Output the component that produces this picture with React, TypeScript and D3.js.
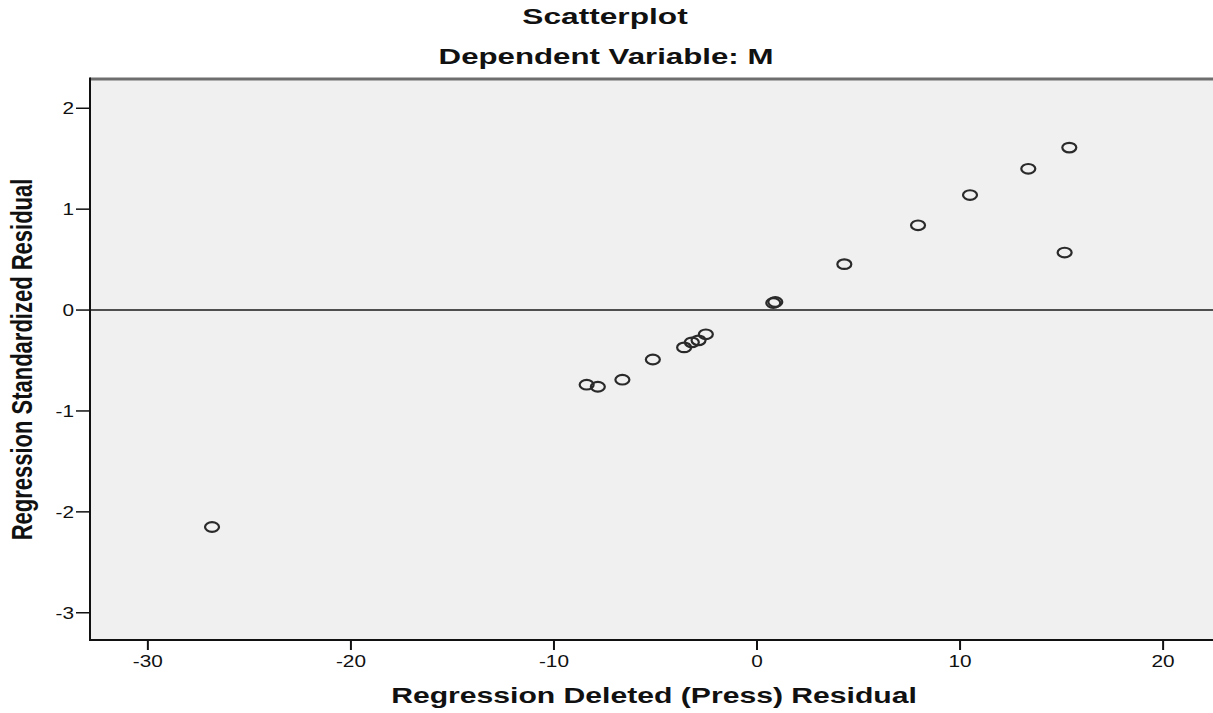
import React, { useRef, useEffect } from "react";
import { select, scaleLinear } from "d3";

// values
const xValues = [-26.84, -8.39, -7.84, -6.63, -5.13, -3.59, -3.21, -2.88, -2.52, 0.8, 0.9, 4.3, 7.93, 10.49, 13.36, 15.38, 15.15];
const yValues = [-2.15, -0.74, -0.76, -0.69, -0.49, -0.37, -0.32, -0.3, -0.24, 0.07, 0.08, 0.455, 0.84, 1.14, 1.4, 1.61, 0.57];
const xTicks = [-30, -20, -10, 0, 10, 20];
const yTicks = [-3, -2, -1, 0, 1, 2];
const xDomain = [-32.85, 22.9];
const yDomain = [-3.27, 2.29];
const title = "Scatterplot";
const subtitle = "Dependent Variable: M";
const xLabel = "Regression Deleted (Press) Residual";
const yLabel = "Regression Standardized Residual";

const W = 1213;
const H = 713;
const FONT = "'Liberation Sans', Arial, sans-serif";

const App = () => {
  const svgRef = useRef(null);

  useEffect(() => {
    document.body.style.margin = "0";
    const svg = select(svgRef.current);
    svg.selectAll("*").remove();

    const left = 90, right = 1222, top = 79, bottom = 640;

    const x = scaleLinear().domain(xDomain).range([left, right]);
    const y = scaleLinear().domain(yDomain).range([bottom, top]);

    svg.append("rect").attr("width", W).attr("height", H).attr("fill", "#ffffff");

    // plot area
    svg.append("rect")
      .attr("x", left).attr("y", top)
      .attr("width", right - left).attr("height", bottom - top)
      .attr("fill", "#f0f0f0");

    // top border (greyish)
    svg.append("line")
      .attr("x1", left).attr("x2", right)
      .attr("y1", top).attr("y2", top)
      .attr("stroke", "#6e6e6e").attr("stroke-width", 3);

    // reference line at 0
    svg.append("line")
      .attr("x1", left).attr("x2", right)
      .attr("y1", y(0)).attr("y2", y(0))
      .attr("stroke", "#1a1a1a").attr("stroke-width", 1.5);

    // axes
    svg.append("line")
      .attr("x1", left).attr("x2", left)
      .attr("y1", top - 1.5).attr("y2", bottom)
      .attr("stroke", "#111").attr("stroke-width", 2);
    svg.append("line")
      .attr("x1", left - 1).attr("x2", right)
      .attr("y1", bottom).attr("y2", bottom)
      .attr("stroke", "#111").attr("stroke-width", 2);

    // y ticks
    yTicks.forEach((t) => {
      svg.append("line")
        .attr("x1", left - 14).attr("x2", left)
        .attr("y1", y(t)).attr("y2", y(t))
        .attr("stroke", "#111").attr("stroke-width", 1.5);
      svg.append("text")
        .attr("transform", `translate(${left - 16},${y(t) + 6}) scale(1.3,1)`)
        .attr("text-anchor", "end")
        .attr("font-family", FONT)
        .attr("font-size", 16)
        .attr("fill", "#111")
        .text(t);
    });

    // x ticks
    xTicks.forEach((t) => {
      svg.append("line")
        .attr("x1", x(t)).attr("x2", x(t))
        .attr("y1", bottom).attr("y2", bottom + 10)
        .attr("stroke", "#111").attr("stroke-width", 2);
      svg.append("text")
        .attr("transform", `translate(${x(t)},${bottom + 27}) scale(1.3,1)`)
        .attr("text-anchor", "middle")
        .attr("font-family", FONT)
        .attr("font-size", 16)
        .attr("fill", "#111")
        .text(t);
    });

    // points (the picture is stretched sideways, so the circles are ellipses)
    svg.append("g")
      .selectAll("ellipse")
      .data(xValues.map((v, i) => [v, yValues[i]]))
      .enter()
      .append("ellipse")
      .attr("cx", (d) => x(d[0]))
      .attr("cy", (d) => y(d[1]))
      .attr("rx", 7)
      .attr("ry", 4.8)
      .attr("fill", "none")
      .attr("stroke", "#2a2a2a")
      .attr("stroke-width", 2.2);

    // titles
    const bold = (txt, tx, ty, sx) =>
      svg.append("text")
        .attr("transform", `translate(${tx},${ty}) scale(${sx},1)`)
        .attr("text-anchor", "middle")
        .attr("font-family", FONT)
        .attr("font-weight", "bold")
        .attr("font-size", 22)
        .attr("fill", "#111")
        .text(txt);

    bold(title, 605, 24, 1.44);
    bold(subtitle, 606, 64, 1.42);
    bold(xLabel, 654, 703, 1.37);

    svg.append("text")
      .attr("transform", `translate(32,${(top + bottom) / 2}) scale(1.35,1) rotate(-90)`)
      .attr("text-anchor", "middle")
      .attr("font-family", FONT)
      .attr("font-weight", "bold")
      .attr("font-size", 22)
      .attr("fill", "#111")
      .text(yLabel);
  }, []);

  return <svg ref={svgRef} width={W} height={H} style={{ display: "block" }}></svg>;
};

export default App;
